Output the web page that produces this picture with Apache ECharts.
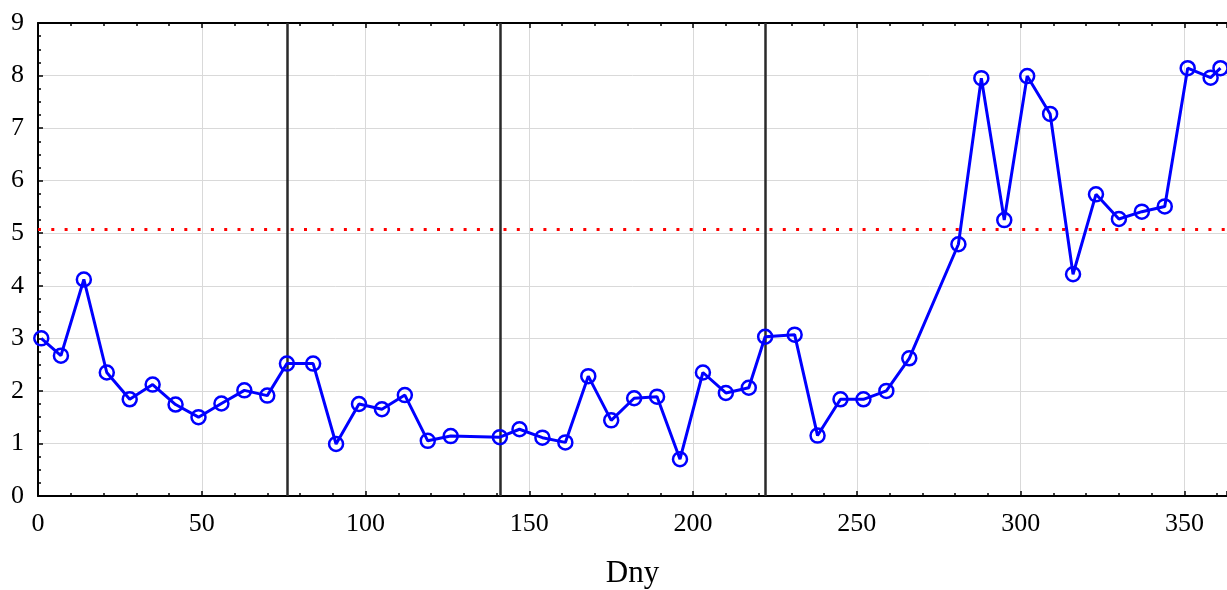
<!DOCTYPE html>
<html>
<head>
<meta charset="utf-8">
<script src="https://cdn.jsdelivr.net/npm/echarts@6/dist/echarts.min.js"></script>
<style>
html,body{margin:0;padding:0;background:#fff;}
#chart{width:1227px;height:590px;}
</style>
</head>
<body>
<div id="chart"></div>
<script>
const days = [1, 7, 14, 21, 28, 35, 42, 49, 56, 63, 70, 76, 84, 91, 98, 105, 112, 119, 126, 141, 147, 154, 161, 168, 175, 182, 189, 196, 203, 210, 217, 222, 231, 238, 245, 252, 259, 266, 281, 288, 295, 302, 309, 316, 323, 330, 337, 344, 351, 358, 361];
const values = [3.0, 2.67, 4.12, 2.35, 1.84, 2.12, 1.74, 1.50, 1.76, 2.01, 1.91, 2.52, 2.52, 0.99, 1.75, 1.65, 1.92, 1.05, 1.14, 1.12, 1.27, 1.11, 1.02, 2.28, 1.44, 1.86, 1.89, 0.70, 2.35, 1.96, 2.06, 3.03, 3.07, 1.15, 1.84, 1.84, 2.0, 2.62, 4.79, 7.95, 5.25, 7.99, 7.27, 4.22, 5.74, 5.27, 5.41, 5.51, 8.14, 7.96, 8.14];
const phaseBreaks = [76, 141, 222];
const referenceLevel = 5.07;
const xTickLabels = ['0', '50', '100', '150', '200', '250', '300', '350'];
const yTickLabels = ['0', '1', '2', '3', '4', '5', '6', '7', '8', '9'];
const xName = 'Dny';

const font = 'Liberation Serif';
const chart = echarts.init(document.getElementById('chart'), null, {renderer: 'canvas'});
const points = days.map((d, i) => [d, values[i]]);

chart.setOption({
  animation: false,
  backgroundColor: '#ffffff',
  grid: {left: 38, right: 0, top: 23, bottom: 94, containLabel: false, outerBoundsMode: 'none'},
  xAxis: [{
    type: 'value', min: 0, max: 363, interval: 50,
    position: 'bottom',
    name: xName, nameLocation: 'middle', nameGap: 62,
    nameTextStyle: {fontFamily: font, fontSize: 31, color: '#000'},
    axisLine: {show: true, onZero: false, lineStyle: {color: '#000', width: 2}},
    axisTick: {show: true, inside: true, length: 5, lineStyle: {color: '#000', width: 1.5}},
    minorTick: {show: true, splitNumber: 5, length: 3, lineStyle: {color: '#000', width: 1.5}},
    axisLabel: {fontFamily: font, fontSize: 26, color: '#000', margin: 15,
      formatter: v => xTickLabels[Math.round(v / 50)] !== undefined ? xTickLabels[Math.round(v / 50)] : '',
      showMaxLabel: false},
    splitLine: {show: true, lineStyle: {color: '#d9d9d9', width: 1}}
  }, {
    type: 'value', min: 0, max: 363, interval: 50,
    position: 'top',
    axisLine: {show: true, onZero: false, lineStyle: {color: '#000', width: 2}},
    axisTick: {show: true, inside: true, length: 5, lineStyle: {color: '#000', width: 1.5}},
    minorTick: {show: true, splitNumber: 5, length: 3, lineStyle: {color: '#000', width: 1.5}},
    axisLabel: {show: false},
    splitLine: {show: false}
  }],
  yAxis: {
    type: 'value', min: 0, max: 9, interval: 1,
    axisLine: {show: true, onZero: false, lineStyle: {color: '#000', width: 2}},
    axisTick: {show: true, inside: true, length: 5, lineStyle: {color: '#000', width: 1.5}},
    minorTick: {show: true, splitNumber: 4, length: 3, lineStyle: {color: '#000', width: 1.5}},
    axisLabel: {fontFamily: font, fontSize: 26, color: '#000', margin: 14,
      formatter: v => yTickLabels[Math.round(v)]},
    splitLine: {show: true, lineStyle: {color: '#d9d9d9', width: 1}}
  },
  series: [{
    type: 'line',
    xAxisIndex: 0,
    data: points,
    clip: true,
    symbol: 'circle',
    symbolSize: 14,
    showAllSymbol: true,
    lineStyle: {color: '#0000ff', width: 3},
    itemStyle: {color: 'rgba(0,0,0,0)', borderColor: '#0000ff', borderWidth: 2.5},
    emphasis: {disabled: true},
    z: 5,
    markLine: {
      silent: true,
      symbol: ['none', 'none'],
      label: {show: false},
      z: 3,
      data: [
        ...phaseBreaks.map(v => ({xAxis: v, lineStyle: {color: '#2a2a2a', width: 2.5, type: 'solid'}})),
        {yAxis: referenceLevel, lineStyle: {color: '#ff0000', width: 3, type: [3, 10.3]}}
      ]
    }
  }]
});
</script>
</body>
</html>
